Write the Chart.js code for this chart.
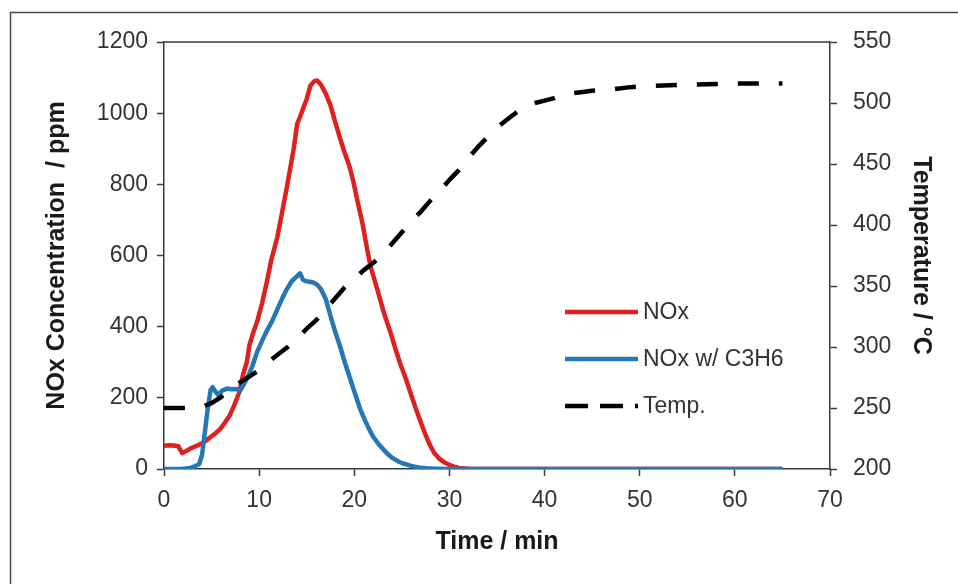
<!DOCTYPE html>
<html>
<head>
<meta charset="utf-8">
<script src="https://cdn.jsdelivr.net/npm/chart.js@4/dist/chart.umd.min.js"></script>
<style>
  html, body { margin: 0; padding: 0; background: #ffffff; }
  #wrap { width: 958px; height: 584px; }
</style>
</head>
<body>
<div id="wrap"><canvas id="c" width="958" height="584"></canvas></div>
<script>
// NOx release during a temperature ramp, with and without propylene
const noxTime = [0, 0.5, 1, 1.5, 1.9, 2.3, 2.8, 3.5, 4.2, 4.8, 5.4, 5.9, 6.4, 6.9, 7.4, 7.9, 8.3, 8.7, 9.0, 9.4, 9.8, 10.3, 10.8, 11.3, 11.9, 12.4, 12.9, 13.3, 13.6, 14.0, 14.3, 14.6, 15.0, 15.4, 15.8, 16.1, 16.5, 17.0, 17.5, 18.0, 18.5, 19.0, 19.5, 19.9, 20.4, 20.9, 21.3, 21.7, 22.2, 22.7, 23.2, 23.8, 24.3, 24.8, 25.4, 25.9, 26.4, 26.9, 27.4, 27.9, 28.4, 28.9, 29.4, 29.9, 30.4, 31.0, 32, 34, 36, 40, 45, 50, 55, 60, 65];
const noxPpm = [65, 67, 66, 64, 45, 50, 58, 66, 75, 88, 100, 112, 130, 150, 180, 215, 265, 300, 350, 385, 415, 465, 525, 590, 650, 720, 790, 850, 895, 970, 990, 1012, 1040, 1078, 1090, 1092, 1080, 1055, 1022, 975, 930, 888, 850, 808, 745, 685, 625, 570, 525, 478, 432, 384, 340, 298, 255, 215, 175, 138, 102, 70, 45, 30, 20, 13, 7, 3, 1, 0, 0, 0, 0, 0, 0, 0, 0];

const noxC3h6Time = [0, 1, 2, 2.8, 3.3, 3.7, 4.0, 4.3, 4.6, 4.9, 5.1, 5.4, 5.7, 6.1, 6.6, 7.1, 7.6, 8.0, 8.4, 8.8, 9.3, 9.8, 10.3, 10.8, 11.3, 11.9, 12.4, 12.9, 13.4, 13.9, 14.3, 14.6, 14.9, 15.3, 15.7, 16.1, 16.5, 17.0, 17.5, 18.0, 18.5, 19.0, 19.6, 20.1, 20.6, 21.1, 21.6, 22.0, 22.5, 23.0, 23.4, 23.9, 24.4, 24.8, 25.3, 25.8, 26.2, 26.8, 27.6, 28.5, 30, 35, 40, 45, 50, 55, 60, 65];
const noxC3h6Ppm = [0, 0, 1, 3, 8, 14, 40, 105, 170, 222, 230, 218, 208, 220, 226, 224, 225, 220, 238, 258, 290, 330, 360, 388, 412, 448, 478, 505, 527, 540, 550, 532, 528, 526, 524, 518, 505, 478, 430, 385, 345, 300, 251, 210, 170, 138, 110, 90, 72, 57, 45, 33, 25, 19, 14, 10, 7, 4, 2, 1, 0, 0, 0, 0, 0, 0, 0, 0];

const tempTime = [0, 2, 4, 5, 6, 7, 8, 9, 10, 11, 12, 13, 14, 15, 16, 17, 18, 19, 20, 21, 22, 23, 24, 25, 26, 27, 28, 29, 30, 31, 32, 33, 34, 35, 36, 37, 38, 39, 40, 41, 42, 43, 44, 45, 47, 49, 51, 55, 60, 65];
const tempC = [250, 250, 251, 254, 259, 265, 271, 276, 281, 288, 294, 300, 307, 315, 322, 331, 340, 349, 356, 363, 369, 376, 385, 394, 403, 411, 420, 428, 437, 445, 455, 464, 472, 480, 486, 492, 497, 500, 502, 504, 507, 508, 509, 510, 511, 513, 514, 515, 516, 516];

const xTicks = [0, 10, 20, 30, 40, 50, 60, 70];
const noxTicks = [0, 200, 400, 600, 800, 1000, 1200];
const tempTicks = [200, 250, 300, 350, 400, 450, 500, 550];

const seriesNames = ['NOx', 'NOx w/ C3H6', 'Temp.'];
const seriesColors = ['#e0201f', '#2478b8', '#000000'];

const pairs = (xs, ys) => xs.map((x, i) => ({ x: x, y: ys[i] }));
const plain = v => String(v);

const tickFont = { family: '"Liberation Sans", Arial, sans-serif', size: 23 };
const titleFont = { family: '"Liberation Sans", Arial, sans-serif', size: 25, weight: 'bold' };
const axisColor = '#3a3a3a';
const textColor = '#333333';

// frame, plot top edge and in-plot legend
const decor = {
  id: 'decor',
  afterDraw(chart) {
    const { ctx, chartArea: a } = chart;
    ctx.save();
    ctx.strokeStyle = '#444444';
    ctx.lineWidth = 1.5;
    ctx.beginPath();
    ctx.moveTo(10.5, 600);
    ctx.lineTo(10.5, 12.5);
    ctx.lineTo(970, 12.5);
    ctx.stroke();

    ctx.strokeStyle = axisColor;
    ctx.lineWidth = 1.5;
    ctx.beginPath();
    ctx.moveTo(a.left, a.top);
    ctx.lineTo(a.right, a.top);
    ctx.stroke();

    const rows = [312, 359, 406];
    ctx.font = '23px "Liberation Sans", Arial, sans-serif';
    ctx.textBaseline = 'middle';
    ctx.fillStyle = textColor;
    chart.data.datasets.forEach((ds, i) => {
      const y = rows[i];
      ctx.strokeStyle = ds.borderColor;
      ctx.lineWidth = 4.5;
      ctx.lineCap = 'butt';
      ctx.setLineDash(i === 2 ? [23, 12] : []);
      ctx.beginPath();
      ctx.moveTo(565, y);
      ctx.lineTo(638, y);
      ctx.stroke();
      ctx.setLineDash([]);
      ctx.fillText(ds.label, 643, y + 1);
    });
    ctx.restore();
  }
};

new Chart(document.getElementById('c'), {
  type: 'line',
  data: {
    datasets: [
      { label: seriesNames[0], data: pairs(noxTime, noxPpm), yAxisID: 'y', borderColor: seriesColors[0], borderWidth: 4.5, order: 3 },
      { label: seriesNames[1], data: pairs(noxC3h6Time, noxC3h6Ppm), yAxisID: 'y', borderColor: seriesColors[1], borderWidth: 4.5, order: 2 },
      { label: seriesNames[2], data: pairs(tempTime, tempC), yAxisID: 'y2', borderColor: seriesColors[2], borderWidth: 4.5, borderDash: [21, 20], order: 1 }
    ]
  },
  options: {
    responsive: false,
    animation: false,
    events: [],
    layout: { padding: { top: 42, left: 0, right: 0, bottom: 0 } },
    elements: { point: { radius: 0 }, line: { tension: 0, fill: false, borderJoinStyle: 'round' } },
    plugins: { legend: { display: false }, tooltip: { enabled: false } },
    scales: {
      x: {
        type: 'linear', position: 'bottom', min: 0, max: 70,
        afterBuildTicks: s => { s.ticks = xTicks.map(v => ({ value: v })); },
        afterFit: s => { s.height = 115; },
        ticks: { font: tickFont, color: textColor, padding: 11, maxRotation: 0, callback: plain },
        grid: { display: true, drawOnChartArea: false, tickLength: 7, tickColor: axisColor, tickWidth: 1.5 },
        border: { display: true, color: axisColor, width: 1.5 },
        title: { display: true, text: 'Time / min', font: titleFont, color: '#1a1a1a', padding: { top: 0, bottom: 27 } }
      },
      y: {
        type: 'linear', position: 'left', min: 0, max: 1200,
        afterBuildTicks: s => { s.ticks = noxTicks.map(v => ({ value: v })); },
        afterFit: s => { s.width = 164; },
        ticks: { font: tickFont, color: textColor, padding: 9, callback: plain },
        grid: { display: true, drawOnChartArea: false, tickLength: 7, tickColor: axisColor, tickWidth: 1.5 },
        border: { display: true, color: axisColor, width: 1.5 },
        title: { display: true, text: 'NOx Concentration  / ppm', font: titleFont, color: '#1a1a1a', padding: { top: 42, bottom: 0 } }
      },
      y2: {
        type: 'linear', position: 'right', min: 200, max: 550,
        afterBuildTicks: s => { s.ticks = tempTicks.map(v => ({ value: v })); },
        afterFit: s => { s.width = 128; },
        ticks: { font: tickFont, color: textColor, padding: 16, callback: plain },
        grid: { display: true, drawOnChartArea: false, tickLength: 7, tickColor: axisColor, tickWidth: 1.5 },
        border: { display: true, color: axisColor, width: 1.5 },
        title: { display: true, text: 'Temperature / °C', font: titleFont, color: '#1a1a1a', padding: { top: 22, bottom: 0 } }
      }
    }
  },
  plugins: [decor]
});
</script>
</body>
</html>
